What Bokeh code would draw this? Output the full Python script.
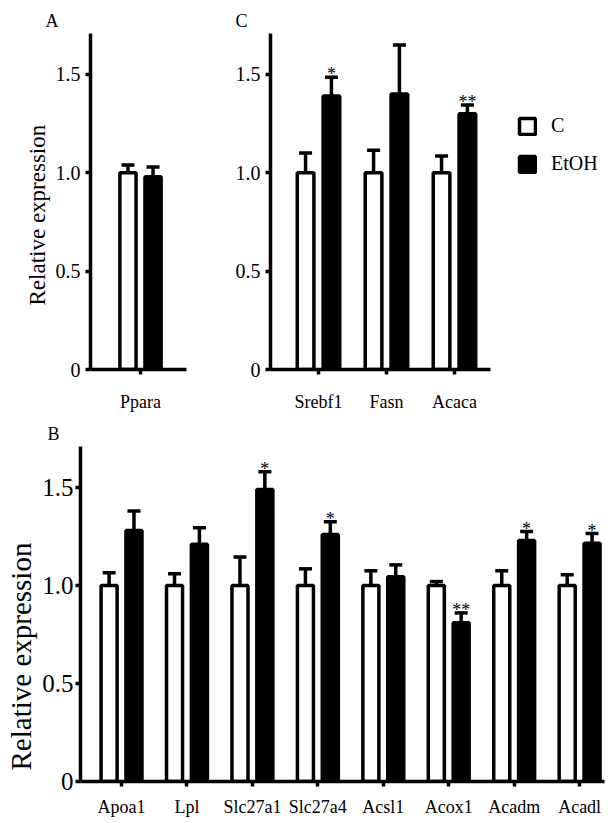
import numpy as np
from bokeh.plotting import figure
from bokeh.models import (ColumnDataSource, Range1d, FixedTicker, Whisker,
                          TeeHead, Legend, LegendItem, Title)
from bokeh.layouts import column, row
from bokeh.embed import file_html
from bokeh.resources import INLINE
from bokeh.core.properties import value

# ---------------- data ----------------
genes_a = ["Ppara"]
ctrl_a = [1.00]
ctrl_sem_a = [0.04]
etoh_a = [0.98]
etoh_sem_a = [0.05]
stars_a = [""]

genes_c = ["Srebf1", "Fasn", "Acaca"]
ctrl_c = [1.00, 1.00, 1.00]
ctrl_sem_c = [0.10, 0.115, 0.085]
etoh_c = [1.39, 1.40, 1.30]
etoh_sem_c = [0.095, 0.25, 0.045]
stars_c = ["*", "", "**"]

genes_b = ["Apoa1", "Lpl", "Slc27a1", "Slc27a4", "Acsl1", "Acox1", "Acadm", "Acadl"]
ctrl_b = [1.00, 1.00, 1.00, 1.00, 1.00, 1.00, 1.00, 1.00]
ctrl_sem_b = [0.065, 0.06, 0.145, 0.085, 0.075, 0.02, 0.075, 0.055]
etoh_b = [1.28, 1.21, 1.49, 1.26, 1.045, 0.81, 1.23, 1.215]
etoh_sem_b = [0.10, 0.085, 0.09, 0.065, 0.06, 0.05, 0.045, 0.05]
stars_b = ["", "", "*", "*", "", "**", "*", "*"]

y_ticks = [0, 0.5, 1.0, 1.5]
y_tick_labels = ["0", "0.5", "1.0", "1.5"]
series_names = ["C", "EtOH"]
y_title = "Relative expression"

FONT = "Liberation Serif"
LW = 3.5
OFF = 0.19
BW = 0.245


def make_panel(letter, genes, ctrl, ctrl_sem, etoh, etoh_sem, stars,
               x_range, y_max, frame_w, frame_h, borders, title_offset,
               title_standoff, ylabel, x_standoff, ytick_size="20px",
               ytick_standoff=5):
    idx = np.arange(len(genes), dtype=float)
    bl, br, bt, bb = borders
    p = figure(frame_width=frame_w, frame_height=frame_h,
               x_range=Range1d(*x_range), y_range=Range1d(0, y_max),
               output_backend="svg", toolbar_location=None,
               min_border_left=bl, min_border_right=br,
               min_border_top=bt, min_border_bottom=bb)
    p.outline_line_color = None
    p.xgrid.visible = False
    p.ygrid.visible = False
    p.background_fill_color = "white"
    p.border_fill_color = "white"

    ctrl = np.array(ctrl)
    etoh = np.array(etoh)
    src_c = ColumnDataSource(dict(x=idx - OFF, top=ctrl,
                                  upper=ctrl + np.array(ctrl_sem)))
    src_e = ColumnDataSource(dict(x=idx + OFF, top=etoh,
                                  upper=etoh + np.array(etoh_sem),
                                  stars=stars))

    for src in (src_c, src_e):
        w = Whisker(source=src, base="x", upper="upper", lower="top",
                    line_width=LW, line_color="black",
                    upper_head=TeeHead(size=13, line_width=LW, line_color="black"),
                    lower_head=None)
        p.add_layout(w)

    r_c = p.vbar(x="x", top="top", bottom=0, width=BW, source=src_c,
                 fill_color="white", line_color="black", line_width=LW)
    r_e = p.vbar(x="x", top="top", bottom=0, width=BW, source=src_e,
                 fill_color="black", line_color="black", line_width=LW)

    p.text(x="x", y="upper", text="stars", source=src_e,
           text_font=value(FONT), text_font_size="18px", text_color="black",
           text_align="center", text_baseline="alphabetic", y_offset=-3)

    for ax in (p.xaxis[0], p.yaxis[0]):
        ax.axis_line_width = LW
        ax.axis_line_color = "black"
        ax.major_tick_line_width = LW
        ax.major_tick_line_color = "black"
        ax.major_tick_in = 0
        ax.major_tick_out = 5
        ax.minor_tick_line_color = None
        ax.major_label_text_font = FONT
        ax.major_label_text_color = "black"

    p.yaxis.ticker = FixedTicker(ticks=y_ticks)
    p.yaxis.major_label_overrides = {float(t): s for t, s in zip(y_ticks, y_tick_labels)}
    p.yaxis.major_label_text_font_size = ytick_size
    p.yaxis.major_label_standoff = ytick_standoff

    p.xaxis.ticker = FixedTicker(ticks=list(idx))
    p.xaxis.major_label_overrides = {float(i): g for i, g in zip(idx, genes)}
    p.xaxis.major_label_text_font_size = "18px"
    p.xaxis.major_label_standoff = x_standoff

    if ylabel is not None:
        size, offset, standoff = ylabel
        t = Title(text=y_title, align="left", offset=offset, standoff=standoff,
                  text_font=FONT, text_font_size=size,
                  text_font_style="normal", text_color="black")
        p.add_layout(t, "left")

    p.title.text = letter
    p.title.text_font = FONT
    p.title.text_font_size = "18px"
    p.title.text_font_style = "normal"
    p.title.text_color = "black"
    p.title.align = "left"
    p.title.offset = title_offset
    p.title.standoff = title_standoff
    return p, r_c, r_e


# Panel A
pA, _, _ = make_panel("A", genes_a, ctrl_a, ctrl_sem_a, etoh_a, etoh_sem_a, stars_a,
                      x_range=(-0.758, 0.697), y_max=1.708, frame_w=96, frame_h=336,
                      borders=(90, 14, 33, 46), title_offset=-45, title_standoff=6,
                      ylabel=("23px", 64, 6), x_standoff=17)

# Panel C
pC, rc, re = make_panel("C", genes_c, ctrl_c, ctrl_sem_c, etoh_c, etoh_sem_c, stars_c,
                        x_range=(-0.706, 2.53), y_max=1.708, frame_w=220, frame_h=336,
                        borders=(70, 110, 33, 46), title_offset=-35, title_standoff=6,
                        ylabel=None, x_standoff=17)
legend = Legend(items=[LegendItem(label=series_names[0], renderers=[rc]),
                       LegendItem(label=series_names[1], renderers=[re])],
                location=(27, 194), glyph_width=20, glyph_height=20,
                spacing=15, padding=0, margin=0, label_standoff=14,
                label_text_font=FONT, label_text_font_size="20px",
                label_text_color="black", border_line_color=None,
                background_fill_alpha=0)
pC.add_layout(legend, "right")

# Panel B
pB, _, _ = make_panel("B", genes_b, ctrl_b, ctrl_sem_b, etoh_b, etoh_sem_b, stars_b,
                      x_range=(-0.627, 7.38), y_max=1.709, frame_w=524, frame_h=335,
                      borders=(80, 2, 31, 40), title_offset=-33, title_standoff=5,
                      ylabel=("29px", 11, 5), x_standoff=10,
                      ytick_size="25px", ytick_standoff=2)

layout = column(row(pA, pC), pB)

open("out.html", "w").write(file_html(layout, INLINE))
